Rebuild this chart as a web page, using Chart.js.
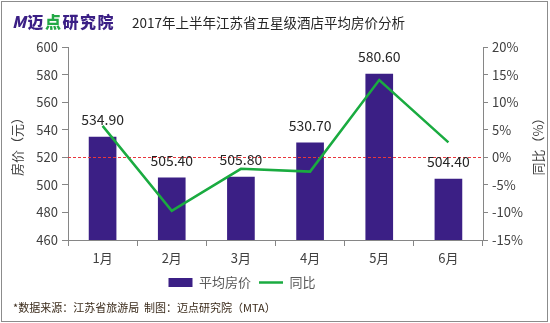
<!DOCTYPE html>
<html><head><meta charset="utf-8">
<script src="https://cdn.jsdelivr.net/npm/chart.js@4/dist/chart.umd.min.js"></script>
<style>
html,body{margin:0;padding:0;background:#fff;}
#wrap{position:relative;width:550px;height:323px;overflow:hidden;font-family:"Noto Sans CJK SC","Noto Sans",sans-serif;}
#frame{position:absolute;left:1px;top:1px;width:545px;height:319px;border:1px solid #8c8c8c;pointer-events:none;}
#logo{position:absolute;left:12px;top:11px;font-size:16px;font-weight:900;color:#3b1f85;letter-spacing:1.5px;line-height:20px;}
#logo .g{color:#22a845;}
#title{position:absolute;left:132px;top:12px;font-size:13.5px;color:#262626;line-height:20px;}
#foot{position:absolute;left:13px;top:299px;font-size:11px;color:#3a2a1a;line-height:16px;}
canvas{position:absolute;left:0;top:0;}
</style></head>
<body><div id="wrap">
<canvas id="c" width="550" height="323"></canvas>
<div id="logo"><i>M</i>迈<span class="g">点</span>研究院</div>
<div id="title">2017年上半年江苏省五星级酒店平均房价分析</div>
<div id="foot">*数据来源：江苏省旅游局&nbsp;&nbsp;制图：迈点研究院（MTA）</div>
<div id="frame"></div>
</div>
<script>
const categories = ["1月","2月","3月","4月","5月","6月"];
const avgPrice = [534.9, 505.4, 505.8, 530.7, 580.6, 504.4];
const yoyPct = [5.7, -9.7, -2.1, -2.6, 14.0, 2.7];
const seriesNames = ["平均房价","同比"];

const FONT = "'Noto Sans CJK SC','Noto Sans',sans-serif";
const TXT = '#404040';
const AXIS = '#868686';
const LEGEND_SHIFT = -33;

const extras = {
  id:'extras',
  afterLayout(chart){ if(chart.legend) chart.legend._shifted = false; },
  beforeDraw(chart){
    const lg = chart.legend;
    if(lg && !lg._shifted){ lg.left += LEGEND_SHIFT; lg.right += LEGEND_SHIFT; lg.top -= 2; lg.bottom -= 2; lg._shifted = true; }
  },
  afterDatasetDraw(chart, args){
    if(args.index !== 0) return;
    const ctx = chart.ctx, ca = chart.chartArea, y = chart.scales.y.getPixelForValue(520);
    ctx.save();
    ctx.strokeStyle = '#e8383d'; ctx.lineWidth = 1; ctx.setLineDash([3,2]);
    ctx.beginPath(); ctx.moveTo(ca.left, Math.round(y)+0.5); ctx.lineTo(ca.right, Math.round(y)+0.5); ctx.stroke();
    ctx.restore();
  },
  afterDatasetsDraw(chart){
    const ctx = chart.ctx;
    const meta = chart.getDatasetMeta(0);
    ctx.save();
    ctx.font = "14px " + FONT; ctx.fillStyle = '#262626';
    ctx.textAlign = 'center'; ctx.textBaseline = 'middle';
    meta.data.forEach((bar,i)=>{
      ctx.fillText(avgPrice[i].toFixed(2), bar.x, bar.y - 17);
    });
    ctx.font = "13px " + FONT; ctx.fillStyle = TXT;
    const ca = chart.chartArea, cy = (ca.top+ca.bottom)/2;
    ctx.save(); ctx.translate(17, cy); ctx.rotate(-Math.PI/2); ctx.fillText("房价（元）",0,0); ctx.restore();
    ctx.save(); ctx.translate(538, cy); ctx.rotate(-Math.PI/2); ctx.fillText("同比（%）",0,0); ctx.restore();
    ctx.restore();
  }
};

new Chart(document.getElementById('c'), {
  data:{
    labels: categories,
    datasets:[
      {type:'bar', label:seriesNames[0], data:avgPrice, backgroundColor:'#3b1f85', yAxisID:'y',
       barPercentage:0.4, categoryPercentage:1.0, order:2, pointStyle:'rect', borderWidth:0},
      {type:'line', label:seriesNames[1], data:yoyPct, borderColor:'#1aab40', backgroundColor:'#1aab40',
       borderWidth:2.5, pointRadius:0, tension:0, yAxisID:'y1', order:1, pointStyle:'line'}
    ]
  },
  options:{
    responsive:false, animation:false, devicePixelRatio:1,
    layout:{padding:{top:47,bottom:22,left:0,right:0}},
    plugins:{
      tooltip:{enabled:false},
      legend:{position:'bottom', labels:{usePointStyle:true, pointStyleWidth:24, boxHeight:9,
        font:{family:FONT,size:13}, color:'#595959', padding:8,
        sort:(a,b)=>a.datasetIndex-b.datasetIndex}}
    },
    scales:{
      x:{offset:true,
        grid:{display:true, drawOnChartArea:false, drawTicks:true, tickLength:6, offset:true, color:AXIS},
        border:{color:AXIS},
        ticks:{font:{family:FONT,size:13}, color:TXT, padding:4},
        afterFit(s){ s.height = 30; }
      },
      y:{position:'left', min:460, max:600,
        ticks:{stepSize:20, font:{family:FONT,size:13}, color:TXT, padding:4},
        grid:{drawOnChartArea:false, drawTicks:true, tickLength:6, color:AXIS},
        border:{color:AXIS},
        afterFit(s){ s.width = 68; }
      },
      y1:{position:'right', min:-15, max:20,
        ticks:{stepSize:5, font:{family:FONT,size:13}, color:TXT, padding:4, callback:v=>v+'%'},
        grid:{drawOnChartArea:false, drawTicks:true, tickLength:5, color:AXIS},
        border:{color:AXIS},
        afterFit(s){ s.width = 67; }
      }
    }
  },
  plugins:[extras]
});
</script>
</body></html>
